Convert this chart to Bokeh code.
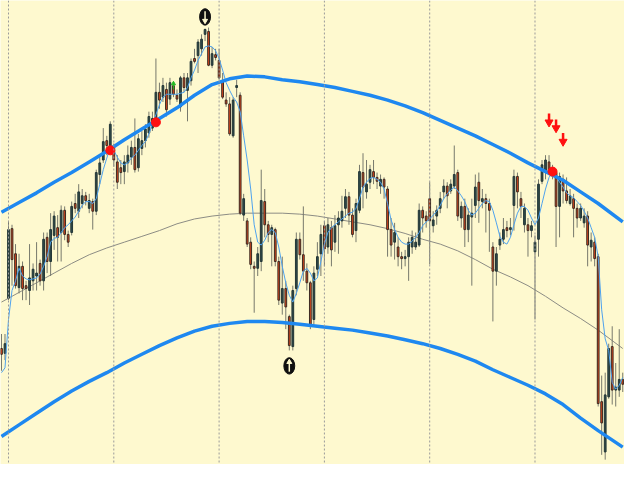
from bokeh.plotting import figure
from bokeh.models import Range1d, Span
from bokeh.embed import file_html
from bokeh.resources import INLINE

# ---- candle data (one value per bar, price units) ----
open_ = [120,115,172,244,218,183,205,185,180,190,
         195,208,190,235,210,237,245,240,263,238,
         240,270,262,270,278,265,272,262,300,315,
         335,325,330,313,307,303,312,318,328,307,
         327,335,343,348,357,385,380,388,378,392,
         382,370,400,387,397,420,423,430,445,448,
         413,424,418,397,377,373,340,390,382,258,
         252,230,205,203,210,272,248,238,243,210,
         167,182,153,122,182,233,217,200,188,150,
         202,218,247,225,245,230,248,252,265,277,
         258,242,263,302,282,292,303,297,288,295,
         285,243,230,225,215,213,215,225,225,227,
         263,257,275,247,257,265,282,288,283,288,
         302,255,267,243,256,268,292,272,275,270,
         225,200,227,233,245,243,268,298,275,248,
         248,242,220,233,293,303,313,300,302,267,
         295,283,270,275,265,255,250,257,225,230,
         215,65,13,70,122,77,77,88]
high = [135,135,252,248,228,218,210,190,228,208,
        230,212,240,240,260,262,258,268,267,242,
        272,280,290,285,282,280,275,305,320,348,
        340,355,332,320,315,320,330,335,358,342,
        345,352,365,365,420,395,400,395,400,396,
        388,402,405,405,420,430,440,445,451,452,
        432,430,430,405,385,380,380,398,385,280,
        255,235,210,225,305,285,252,248,245,215,
        215,190,155,185,240,240,267,208,190,205,
        230,248,252,255,252,258,262,278,285,282,
        265,275,310,322,315,310,315,302,300,297,
        288,255,250,235,220,222,235,242,240,270,
        267,262,292,262,268,282,295,292,295,330,
        305,272,275,265,275,300,302,285,280,275,
        230,225,240,255,252,255,305,302,282,270,
        255,252,237,295,315,320,320,310,305,302,
        300,297,285,280,270,270,265,262,240,235,
        218,92,95,125,143,105,140,95]
low = [97,108,170,185,182,177,170,170,165,180,
       180,185,180,198,195,222,210,210,232,225,
       237,260,255,265,268,260,243,258,290,312,
       320,322,308,285,290,290,302,310,302,303,
       320,328,338,345,354,368,375,360,372,380,
       375,365,385,355,392,415,405,423,438,412,
       410,418,398,378,370,340,338,380,258,252,
       225,202,157,195,200,235,230,205,205,165,
       155,140,118,118,175,212,190,180,140,145,
       195,195,205,218,205,220,218,245,255,248,
       235,230,260,265,275,285,290,285,280,275,
       215,215,212,205,202,205,190,218,222,225,
       240,245,207,240,248,260,275,265,280,285,
       252,245,225,230,185,255,250,265,240,220,
       148,185,222,228,235,237,242,265,255,240,
       215,235,150,215,290,295,300,295,225,235,
       270,270,268,235,245,252,245,205,210,205,
       60,10,5,68,62,60,70,75]
close = [114,125,243,212,185,205,182,182,193,202,
         198,190,233,210,243,257,235,263,238,230,
         267,265,282,278,273,273,262,302,312,334,
         330,352,315,292,302,313,320,328,305,337,
         335,347,360,358,385,377,392,367,395,383,
         378,400,390,400,417,417,437,440,450,413,
         425,421,400,380,373,342,377,392,260,275,
         228,207,203,218,273,248,238,245,210,170,
         182,163,123,180,233,217,200,188,143,198,
         215,238,223,248,222,247,255,262,277,258,
         238,270,303,287,290,305,297,293,295,287,
         243,227,240,215,213,215,230,235,230,263,
         255,252,252,253,263,275,288,278,290,300,
         257,267,243,258,260,287,273,275,270,263,
         200,218,233,243,242,245,298,282,267,265,
         242,247,230,290,310,315,303,305,267,298,
         283,273,278,265,255,265,257,227,232,213,
         63,43,72,120,77,80,88,83]

# thin moving-average line, read per bar
ma_line = [95,100,150,180,190,203,195,192,191,192,
           193,197,205,215,230,234,235,240,245,248,
           252,256,262,268,272,272,270,275,290,305,
           317,328,325,318,312,310,312,317,320,325,
           330,334,342,352,362,372,380,383,383,383,
           383,384,385,390,400,408,418,425,432,433,
           432,428,420,408,395,387,380,375,365,340,
           315,285,248,230,227,232,240,243,240,225,
           205,188,175,168,177,188,200,203,198,190,
           193,210,228,240,245,248,251,254,257,260,
           261,265,275,287,292,296,297,295,292,285,
           270,253,243,235,230,228,228,231,235,240,
           247,251,254,258,262,268,275,280,284,287,
           283,278,272,263,258,260,265,270,273,272,
           263,250,236,230,228,235,248,260,267,267,
           263,255,248,255,270,285,297,302,298,292,
           287,281,278,276,272,268,262,255,245,235,
           215,160,130,118,85,78,82,90]

# regression channel, sampled along the bars
curve_bars = [0,5,10,15,20,25,30,35,40,45,50,55,60,65,70,75,80,85,90,95,
              100,105,110,115,120,125,130,135,140,145,150,155,160,165,170,177]
channel_upper = [261,271,281,292,302,313,324,336,347,358,369,382,393,399,402,401,398,396,393,390,
                 386,382,377,371,364,356,348,340,331,322,312,303,294,282,270,251]
channel_mid = [168,178,188,198,208,217,224,230,236,242,249,254,257,259,260,260,260,259,257,254,
               251,248,244,239,233,228,221,212,202,194,185,174,162,151,139,120]
channel_lower = [29,41,53,65,76,86,95,105,114,123,131,138,143,146,148,148,147,145,143,141,
                 139,136,133,129,125,120,114,107,98,90,82,73,62,48,35,18]

# period separators
separator_bars = [2, 32, 62, 92, 122, 152]

# signal marks
dot_bars = [31, 44, 157]
dot_prices = [325, 354, 303]
sell_bars = [156, 158, 160]
sell_prices = [357, 351, 337]
top_mark_bar, top_mark_price = 58, 463
bottom_mark_bar, bottom_mark_price = 82, 102
small_up_bar, small_up_price = 49, 392

BG = "#FEF9CF"
p = figure(width=624, height=464, output_backend="svg", toolbar_location=None,
           x_range=Range1d(-0.28, 177.5), y_range=Range1d(0, 480),
           min_border=0, background_fill_color=BG, border_fill_color=BG,
           outline_line_color=None)
p.axis.visible = False
p.grid.visible = False

for b in separator_bars:
    p.add_layout(Span(location=b, dimension="height", line_color="#9A9A9A",
                      line_dash="2 2", line_width=1))

# centre line of the channel
p.line(curve_bars, channel_mid, line_color="#8C8C84", line_width=1)

bars = list(range(len(open_)))
# wicks
p.segment(x0=bars, y0=low, x1=bars, y1=high, line_color="#77796C", line_width=1)
# bodies
up_x, up_t, up_b, dn_x, dn_t, dn_b = [], [], [], [], [], []
for i in bars:
    o, c = open_[i], close[i]
    top, bot = max(o, c), min(o, c)
    if top - bot < 1.5:
        top, bot = (top + bot) / 2 + 0.75, (top + bot) / 2 - 0.75
    if c >= o:
        up_x.append(i); up_t.append(top); up_b.append(bot)
    else:
        dn_x.append(i); dn_t.append(top); dn_b.append(bot)
p.vbar(x=up_x, top=up_t, bottom=up_b, width=0.5, fill_color="#2F4A4A",
       line_color="#233636", line_width=1)
p.vbar(x=dn_x, top=dn_t, bottom=dn_b, width=0.5, fill_color="#E2481C",
       line_color="#3A2A22", line_width=1)

# thin moving average
p.line(bars, ma_line, line_color="#4EA2EE", line_width=1)

# channel bands
p.line(curve_bars, channel_upper, line_color="#1E88F0", line_width=3.5, line_join="round")
p.line(curve_bars, channel_lower, line_color="#1E88F0", line_width=3.5, line_join="round")

# red dots on the upper band
p.scatter(dot_bars, dot_prices, size=9, marker="circle", fill_color="#FF1010",
          line_color="#FF1010")

# red sell arrows
p.segment(x0=sell_bars, y0=[v + 6 for v in sell_prices], x1=sell_bars,
          y1=[v - 1 for v in sell_prices], line_color="#FF1010", line_width=2.5)
p.scatter(sell_bars, [v - 3 for v in sell_prices], marker="inverted_triangle",
          size=8, fill_color="#FF1010", line_color="#FF1010")

# small green up arrow
p.segment(x0=[small_up_bar], y0=[small_up_price - 4], x1=[small_up_bar],
          y1=[small_up_price + 2], line_color="#22BB22", line_width=1)
p.scatter([small_up_bar], [small_up_price + 2], marker="triangle", size=4,
          fill_color="#22BB22", line_color="#22BB22")

# black extreme marks
for b, v, d in [(top_mark_bar, top_mark_price, -1), (bottom_mark_bar, bottom_mark_price, 1)]:
    p.ellipse(x=[b], y=[v], width=3.1, height=17, fill_color="#101010",
              line_color="#101010")
    p.segment(x0=[b], y0=[v - 6 * d], x1=[b], y1=[v + 4 * d], line_color=BG,
              line_width=1.5)
    p.scatter([b], [v + 4 * d], marker="triangle" if d > 0 else "inverted_triangle",
              size=5, fill_color=BG, line_color=BG)

open("out.html", "w").write(file_html(p, INLINE))
